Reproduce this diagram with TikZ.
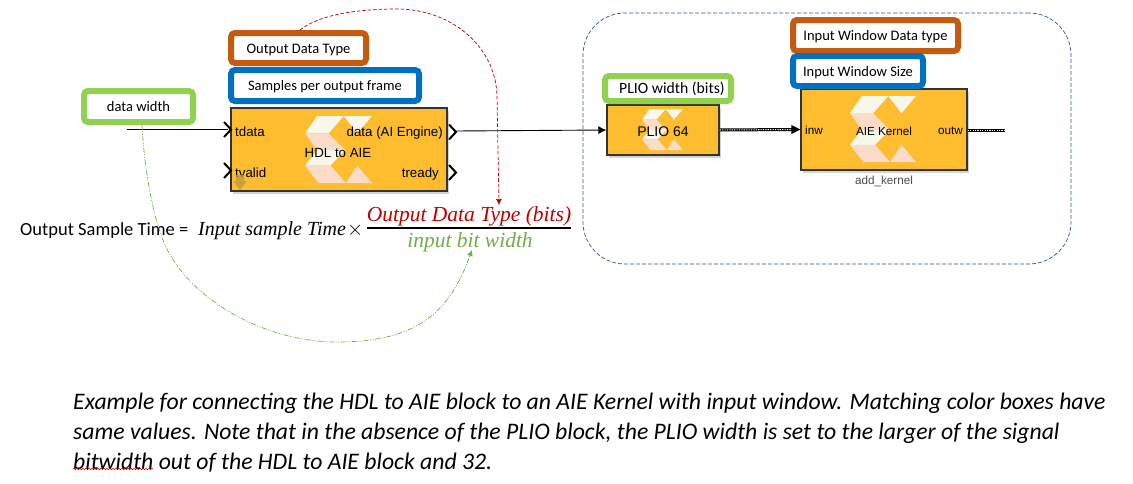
\documentclass[tikz,border=0pt]{standalone}
\usepackage{fontspec}
\usetikzlibrary{arrows.meta, positioning, shadows}
\usetikzlibrary{decorations.pathmorphing}
\newfontfamily\calibrifont{Carlito}
\newfontfamily\arialfont{Liberation Sans}
\newfontfamily\cambriafont{Liberation Serif}
\definecolor{blockfill}{HTML}{FDBD2E}
\definecolor{logocream}{HTML}{F7F7EA}
\definecolor{logopink}{HTML}{FADCC8}
\definecolor{boxorange}{HTML}{C55A11}
\definecolor{boxblue}{HTML}{0070C0}
\definecolor{boxgreen}{HTML}{92D050}
\definecolor{linered}{HTML}{C00000}
\definecolor{linegreen}{HTML}{70AD47}
\definecolor{regionblue}{HTML}{2F5597}
\definecolor{handtan}{HTML}{BE9A46}

\tikzset{
    labelbox/.style={draw=#1, fill=white, line width=6pt, rounded corners=4pt,
        font=\calibrifont\fontsize{14.5}{16}\selectfont,
        text height=13pt, text depth=3pt, inner sep=0pt},
    simblock/.style={draw=black!80, fill=blockfill, line width=1.4pt,
        drop shadow={shadow xshift=2pt, shadow yshift=-2.5pt, opacity=.35},
        inner sep=0pt},
    portlabel/.style={font=\arialfont\fontsize{13.3}{16}\selectfont, inner sep=0pt,
        text height=10pt, text depth=3pt},
    smalllabel/.style={portlabel, font=\arialfont\fontsize{11.7}{13}\selectfont},
    sigline/.style={black, line width=.9pt, -{Latex[length=8pt,width=8pt]}},
    busline/.style={black, line width=3pt,
        postaction={draw=white, line width=1pt, dash pattern=on 1.2pt off 1.2pt}},
    portmark/.pic={\draw[black, line width=2pt] (-7,-7.5) -- (0,0) -- (-7,7.5);},
    xlogo/.pic={
        \begin{scope}[x=#1, y=-#1]
        \fill[logocream] (.18,0) -- (.58,0) -- (.35,.26) -- (0,.26) -- cycle;
        \fill[logocream] (.58,0) -- (1,0) -- (.78,.26) -- cycle;
        \fill[logopink] (0,.26) -- (.35,.26) -- (.6,.51) -- (.18,.51) -- cycle;
        \fill[logocream] (.18,.51) -- (.6,.51) -- (.38,.74) -- (0,.74) -- cycle;
        \fill[logopink] (0,.74) -- (.38,.74) -- (.61,1) -- (.2,1) -- cycle;
        \fill[logopink] (.61,1) -- (.78,.74) -- (1,1) -- cycle;
        \end{scope}
    },
}

\begin{document}
\begin{tikzpicture}[x=1pt, y=-1pt]
    \useasboundingbox (0,0) rectangle (1133,483);

    % region round the PLIO and the kernel
    \node (region) [draw=regionblue, dash pattern=on 4pt off 2pt, line width=.7pt, rounded corners=42pt,
        minimum width=488pt, minimum height=251pt, inner sep=0pt] at (827,138.5) {};

    % blocks
    \node (hdl) [simblock, minimum width=216pt, minimum height=83pt] at (339,149.5) {};
    \node (plio) [simblock, minimum width=112pt, minimum height=50pt] at (663,130) {};
    \node (aie) [simblock, minimum width=166pt, minimum height=81pt] at (884,129.5) {};

    % logos
    \pic at (305,116) {xlogo=67pt};
    \pic at (642,109) {xlogo=41pt};
    \pic at (850,96) {xlogo=66pt};

    % colour boxes
    \node (dtype) [labelbox=boxorange, minimum width=135pt, minimum height=30pt] at (298.5,48) {Output Data Type};
    \node (frame) [labelbox=boxblue, minimum width=188pt, minimum height=31pt] at (325,85.5) {Samples per output frame};
    \node (dwidth) [labelbox=boxgreen, minimum width=109pt, minimum height=31pt] at (138.5,106.5) {data width};
    \node (plioW) [labelbox=boxgreen, font=\calibrifont\fontsize{15.7}{17}\selectfont, minimum width=126pt, minimum height=25pt] at (668,88.5) {\hspace*{8pt}PLIO width (bits)};
    \node (wintype) [labelbox=boxorange, minimum width=165pt, minimum height=31pt] at (875.5,35.5) {Input Window Data type};
    \node (winsize) [labelbox=boxblue, minimum width=130pt, minimum height=30pt] at (858,71) {Input Window Size};

    % block texts
    \node (tdata) [portlabel, anchor=west] at (235,132.5) {tdata};
    \node (tvalid) [portlabel, anchor=west] at (235,173.5) {tvalid};
    \node (dataout) [portlabel, anchor=east] at (443,132.5) {data (AI Engine)};
    \node (tready) [portlabel, anchor=east] at (439,173.5) {tready};
    \node (hdlname) [portlabel] at (338,153.5) {HDL to AIE};
    \node (pliname) [portlabel, font=\arialfont\fontsize{14}{17}\selectfont] at (663,132.5) {PLIO 64};
    \node (inw) [smalllabel, anchor=west] at (805,130.5) {inw};
    \node (outw) [smalllabel, anchor=east] at (963,130.5) {outw};
    \node (aiename) [smalllabel] at (884,131.5) {AIE Kernel};
    \node (kernel) [smalllabel, text=black!70, below=4pt of aie] {add\_kernel};

    % the small arrow in the HDL block
    \fill[handtan, opacity=.8] (236,175) -- (244,175) -- (244,181) -- (247,181) -- (240,190) -- (233,181) -- (236,181) -- cycle;

    % ports
    \pic at (231,129.5) {portmark};
    \pic at (231,170.5) {portmark};
    \pic at (456,132) {portmark};
    \pic at (456,172.5) {portmark};

    % formula
    \node (sampletime) [anchor=base west, inner sep=0pt, font=\calibrifont\fontsize{18.5}{20}\selectfont] at (20,235) {Output Sample Time =};
    \node (inputtime) [anchor=base west, inner sep=0pt, font=\cambriafont\itshape\fontsize{20}{22}\selectfont] at (198,235) {Input sample Time};
    \node (times) [anchor=base west, inner sep=0pt, font=\cambriafont\fontsize{21}{22}\selectfont] at (347,235) {$\times$};
    \node (numer) [anchor=base, inner sep=0pt, text=linered, font=\cambriafont\itshape\fontsize{21.5}{22}\selectfont] at (469,221) {Output Data Type (bits)};
    \node (denom) [anchor=base, inner sep=0pt, text=linegreen, font=\cambriafont\itshape\fontsize{21.5}{22}\selectfont] at (470,247) {input bit width};
    \coordinate (fracL) at (367,228);
    \coordinate (fracR) at (571,228);
    \draw[black, line width=1.6pt] (fracL) -- (fracR);

    % connectors
    \coordinate (tdataIn) at (127,129);
    \coordinate (tdataEnd) at (228,129);
    \draw[black, line width=.9pt] (tdataIn) -- (tdataEnd);
    \coordinate (hdlOut) at (455,131);
    \draw[sigline] (hdlOut) -- (plio.west);
    \draw[busline] (plio.east) -- ([xshift=-7pt]aie.west);
    \path (plio.east) -- (aie.west) coordinate[pos=1] (aieIn);
    \fill[black] (aieIn) -- ++(-9,-4.5) -- ++(0,9) -- cycle;
    \coordinate (outwEnd) at (1005,130);
    \draw[busline] (aie.east |- outwEnd) -- (outwEnd);

    % the two long dashed curves
    \coordinate (redEnd) at (499,205);
    \draw[linered, line width=.7pt, dash pattern=on 3.5pt off 2pt, -{Latex[length=6pt,width=6pt]}]
        ([xshift=1.5pt]dtype.north) .. controls (320,14) and (360,9) .. (397,9)
        .. controls (450,9) and (495,45) .. (497,95)
        -- (redEnd);
    \coordinate (greenEnd) at (472,250);
    \draw[linegreen, line width=.7pt, dash pattern=on 5pt off 1.5pt on 1pt off 1.5pt on 1pt off 1.5pt, -{Latex[length=6pt,width=6pt]}]
        ([xshift=3.5pt]dwidth.south) .. controls (144,165) and (152,215) .. (165,245)
        .. controls (190,300) and (265,342) .. (337,342)
        .. controls (420,342) and (450,310) .. (greenEnd);

    % caption
    \node (caption) [anchor=north west, inner sep=0pt, align=left,
        font=\calibrifont\itshape\fontsize{23.7}{30}\selectfont] at (73,393)
        {Example for connecting the HDL to AIE block to an AIE Kernel with input window. Matching color boxes have\\
        same values. Note that in the absence of the PLIO block, the PLIO width is set to the larger of the signal\\
        bitwidth out of the HDL to AIE block and 32.};
    \coordinate (squigL) at (73,469);
    \coordinate (squigR) at (153,469);
    \draw[red!80!black, line width=.5pt, decorate, decoration={snake, amplitude=.8pt, segment length=3pt}] (squigL) -- (squigR);

\end{tikzpicture}
\end{document}
